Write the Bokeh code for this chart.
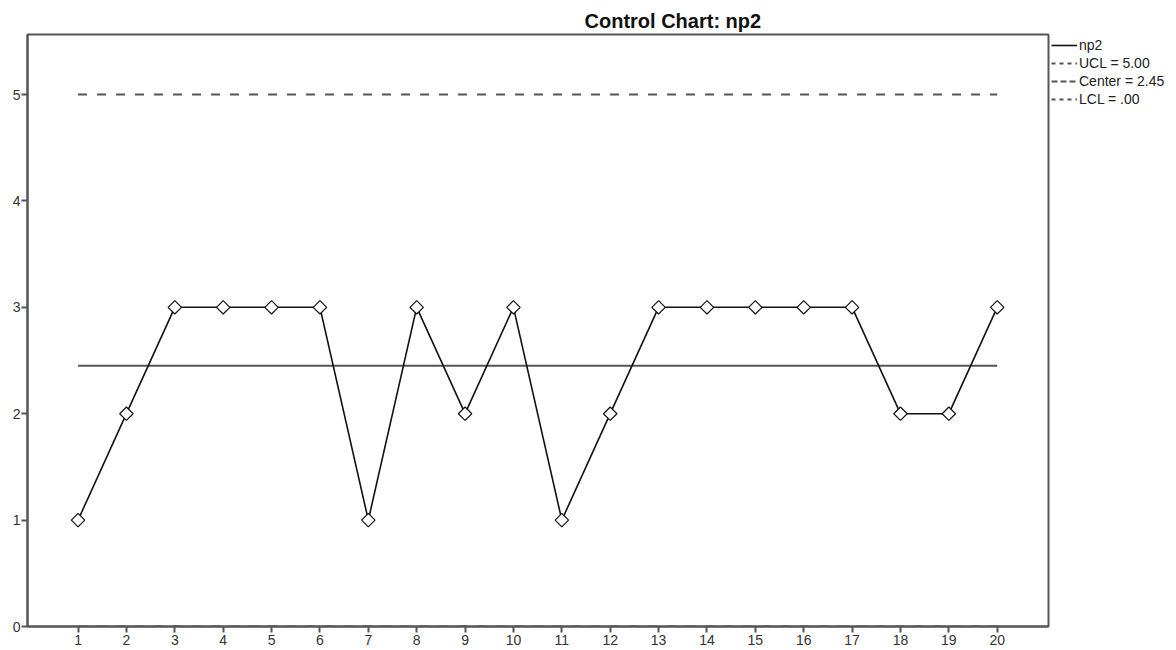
import math
from bokeh.plotting import figure
from bokeh.models import Range1d, FixedTicker, Legend, LegendItem
from bokeh.embed import file_html
from bokeh.resources import INLINE

# ---- data ----
samples = list(range(1, 21))
np2 = [1, 2, 3, 3, 3, 3, 1, 3, 2, 3, 1, 2, 3, 3, 3, 3, 3, 2, 2, 3]
ucl = 5.00
center = 2.45
lcl = 0.00
y_ticks = [0, 1, 2, 3, 4, 5]
legend_labels = ["np2", "UCL = 5.00", "Center = 2.45", "LCL = .00"]
title_text = "Control Chart: np2"

FONT = "Liberation Sans"
GRAY = "#555555"

p = figure(frame_width=1021, frame_height=592,
           x_range=Range1d(-0.045, 21.06), y_range=Range1d(0, 5.564),
           output_backend="svg", toolbar_location=None,
           min_border_left=27, min_border_top=34, min_border_bottom=5, min_border_right=0)

p.title.text = title_text
p.title.text_font = FONT
p.title.text_font_size = "20px"
p.title.text_font_style = "bold"
p.title.text_color = "#111111"
p.title.align = "left"
p.title.offset = 557
p.title.standoff = 5

p.grid.visible = False
p.background_fill_color = "white"
p.border_fill_color = "white"
p.outline_line_color = GRAY
p.outline_line_width = 2

for ax in (p.xaxis[0], p.yaxis[0]):
    ax.axis_line_color = GRAY
    ax.axis_line_width = 2
    ax.major_tick_line_color = GRAY
    ax.major_tick_line_width = 2
    ax.major_tick_in = 0
    ax.minor_tick_line_color = None
    ax.major_label_text_font = FONT
    ax.major_label_text_font_size = "14px"
    ax.major_label_text_color = "#333333"
    ax.major_label_standoff = 2

p.xaxis[0].ticker = FixedTicker(ticks=samples)
p.xaxis[0].major_tick_out = 6
p.yaxis[0].ticker = FixedTicker(ticks=y_ticks)
p.yaxis[0].major_tick_out = 6
p.yaxis[0].major_label_standoff = 1

n = len(samples)
r_ucl = p.line(samples, [ucl] * n, line_color=GRAY, line_width=2, line_dash="9 10")
r_lcl = p.line(samples, [lcl] * n, line_color=GRAY, line_width=2, line_dash="9 10")
r_cen = p.line(samples, [center] * n, line_color=GRAY, line_width=2)
r_data = p.line(samples, np2, line_color="#111111", line_width=1.6)
p.scatter(samples, np2, marker="square", angle=math.pi / 4, size=9.5,
          fill_color="white", line_color="#111111", line_width=1.2)

# legend proxies (the original legend draws limit entries as dashed); NaN => not drawn in plot
nan = float("nan")
leg_ucl = p.line([samples[0]], [nan], line_color=GRAY, line_width=2, line_dash="4 4")
leg_cen = p.line([samples[0]], [nan], line_color=GRAY, line_width=2, line_dash="6 3")
leg_lcl = p.line([samples[0]], [nan], line_color=GRAY, line_width=2, line_dash="4 4")

legend = Legend(items=[
    LegendItem(label=legend_labels[0], renderers=[r_data]),
    LegendItem(label=legend_labels[1], renderers=[leg_ucl]),
    LegendItem(label=legend_labels[2], renderers=[leg_cen]),
    LegendItem(label=legend_labels[3], renderers=[leg_lcl]),
], location="top_left")
legend.label_text_font = FONT
legend.label_text_font_size = "14px"
legend.label_text_color = "#222222"
legend.glyph_width = 26
legend.glyph_height = 16
legend.spacing = 2
legend.padding = 0
legend.margin = 3
legend.label_standoff = 2
legend.border_line_color = None
legend.background_fill_alpha = 0
p.add_layout(legend, "right")

open("out.html", "w").write(file_html(p, INLINE))
